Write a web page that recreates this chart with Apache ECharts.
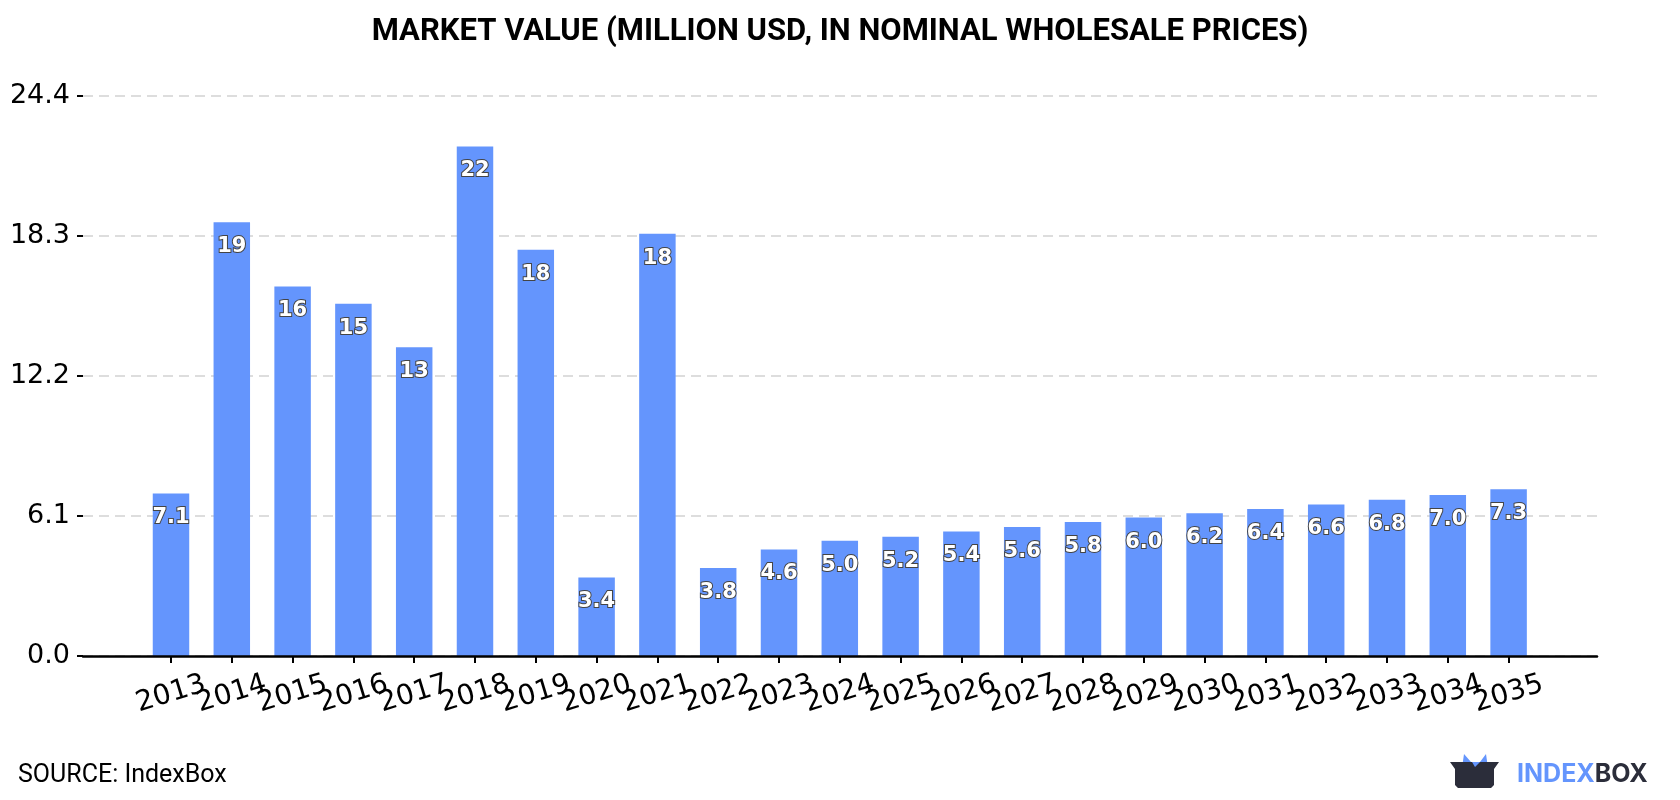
<!DOCTYPE html>
<html>
<head>
<meta charset="utf-8">
<script src="https://cdn.jsdelivr.net/npm/echarts@6/dist/echarts.min.js"></script>
<style>html,body{margin:0;padding:0;background:#fff}#c{width:1680px;height:800px}</style>
</head>
<body>
<div id="c"></div>
<script>
const categories = ['2013','2014','2015','2016','2017','2018','2019','2020','2021','2022','2023','2024','2025','2026','2027','2028','2029','2030','2031','2032','2033','2034','2035'];
const values = [7.08, 18.9, 16.1, 15.35, 13.45, 22.2, 17.7, 3.42, 18.4, 3.83, 4.64, 5.02, 5.2, 5.43, 5.62, 5.84, 6.03, 6.22, 6.41, 6.6, 6.81, 7.02, 7.27];
const yTicks = [0, 6.1, 12.2, 18.3, 24.4];
const titleText = 'MARKET VALUE (MILLION USD, IN NOMINAL WHOLESALE PRICES)';
const sourceText = 'SOURCE: IndexBox';

const chart = echarts.init(document.getElementById('c'), null, {renderer: 'canvas'});
const yMax = yTicks[yTicks.length - 1];
const yStep = yTicks[1] - yTicks[0];
const gridTop = 96, gridHeight = 560;
chart.setOption({
  animation: false,
  backgroundColor: '#fff',
  title: {
    text: titleText, left: 'center', top: 12,
    textStyle: {fontFamily: 'Roboto', fontWeight: 'bold', fontSize: 31, color: '#000'}
  },
  grid: [
    {left: 83, right: 83, top: gridTop, height: gridHeight},
    {left: 140.6, width: 1398.4, top: gridTop, height: gridHeight}
  ],
  xAxis: [
    {gridIndex: 0, type: 'value', min: 0, max: 1, z: 5,
     axisLine: {show: true, lineStyle: {color: '#000', width: 2.5}},
     axisTick: {show: false}, axisLabel: {show: false}, splitLine: {show: false}},
    {gridIndex: 1, type: 'category', data: categories, z: 6,
     axisLine: {show: false},
     axisTick: {show: true, alignWithLabel: true, length: 7, lineStyle: {color: '#000', width: 2}},
     axisLabel: {interval: 0, rotate: 17, align: 'center', verticalAlign: 'middle', margin: 38,
       fontFamily: 'DejaVu Sans', fontSize: 28, color: '#000'}}
  ],
  yAxis: [
    {gridIndex: 0, type: 'value', min: 0, max: yMax, interval: yStep,
     axisLine: {show: false},
     axisTick: {show: true, length: 6, lineStyle: {color: '#000', width: 2}},
     axisLabel: {margin: 13, fontFamily: 'DejaVu Sans', fontSize: 27, color: '#000',
       formatter: v => v.toFixed(1)},
     splitLine: {show: true, lineStyle: {color: '#dddddd', width: 2, type: [10, 6]}}},
    {gridIndex: 1, type: 'value', min: 0, max: yMax, interval: yStep, show: false,
     splitLine: {show: false}}
  ],
  series: [{
    type: 'bar', xAxisIndex: 1, yAxisIndex: 1, data: values, barWidth: '60%',
    itemStyle: {color: '#6495fd'},
    label: {show: true, position: 'insideTop', distance: 14,
      fontFamily: 'DejaVu Sans', fontWeight: 'bold', fontSize: 21, color: '#fff',
      textBorderColor: '#444', textBorderWidth: 2,
      formatter: p => p.value >= 10 ? String(Math.round(p.value)) : p.value.toFixed(1)}
  }],
  graphic: [
    {type: 'text', left: 18, top: 763, style: {text: sourceText, fontFamily: 'Roboto', fontSize: 25, fill: '#000'}},
    {type: 'polygon', shape: {points: [[1462,768],[1464,754],[1471,762],[1480,762],[1486,754],[1488,768]]}, style: {fill: '#6495fd'}},
    {type: 'polygon', shape: {points: [[1450,762],[1472,762],[1475,767],[1480,762],[1499,762],[1494,769],[1494,785],[1491,788],[1458,788],[1455,785],[1455,769]]}, style: {fill: '#2b2d3a'}},
    {type: 'text', left: 1517, top: 762, style: {
      rich: {a: {fontFamily: 'Inter', fontWeight: 'bold', fontSize: 25, fill: '#6495fd'},
             b: {fontFamily: 'Inter', fontWeight: 'bold', fontSize: 25, fill: '#2b2d3a'}},
      text: '{a|INDEX}{b|BOX}'}}
  ]
});
</script>
</body>
</html>
